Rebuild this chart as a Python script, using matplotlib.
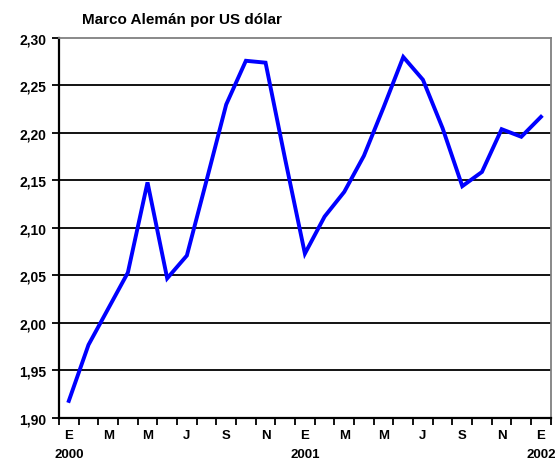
import numpy as np
import matplotlib
matplotlib.use("Agg")
import matplotlib.pyplot as plt

# monthly values, Jan 2000 .. Jan 2002
months = ["E", "F", "M", "A", "M", "J", "J", "A", "S", "O", "N", "D",
          "E", "F", "M", "A", "M", "J", "J", "A", "S", "O", "N", "D", "E"]
dm_per_usd = [1.918, 1.977, 2.015, 2.053, 2.148, 2.047, 2.071, 2.150, 2.230,
              2.276, 2.274, 2.172, 2.073, 2.112, 2.138, 2.176, 2.227, 2.280,
              2.256, 2.205, 2.144, 2.159, 2.204, 2.196, 2.217]
years = {0: "2000", 12: "2001", 24: "2002"}
yticks = [1.90, 1.95, 2.00, 2.05, 2.10, 2.15, 2.20, 2.25, 2.30]

plt.rcParams['font.family'] = ['Liberation Sans', 'DejaVu Sans']
plt.rcParams['font.weight'] = 'bold'

fig = plt.figure(figsize=(5.57, 4.64), dpi=100)
ax = fig.add_axes([0.1059, 0.097, 0.883, 0.819])

x = np.arange(len(dm_per_usd))
ax.plot(x, dm_per_usd, color='#0000ff', lw=2.8, solid_joinstyle='miter', zorder=3)

ax.set_ylim(1.90, 2.30)
ax.set_xlim(-0.5, len(x) - 0.5)
ax.set_yticks(yticks)
ax.set_yticklabels([f"{v:.2f}".replace('.', ',') for v in yticks], fontsize=10, fontweight='bold')
for v in yticks[1:-1]:
    ax.axhline(v, color='black', lw=1.3, zorder=1)

# ticks between months, labels every second month
ax.set_xticks(np.arange(-0.5, len(x), 1))
ax.set_xticklabels([])
ax.set_xticks(x[::2], minor=True)
ax.set_xticklabels(months[::2], minor=True, fontsize=9.5, fontweight='bold')
ax.tick_params(axis='x', which='major', length=5, width=1.3, direction='out')
ax.tick_params(axis='x', which='minor', length=0, pad=8)
ax.tick_params(axis='y', length=5, width=1.3, direction='out', pad=4)

for i, yr in years.items():
    ax.text(i, -0.095, yr, transform=ax.get_xaxis_transform(), ha='center', va='center',
            fontsize=9.5, fontweight='bold')

for s in ['left', 'bottom']:
    ax.spines[s].set_linewidth(1.6)
    ax.spines[s].set_color('black')
for s in ['top', 'right']:
    ax.spines[s].set_linewidth(1.3)
    ax.spines[s].set_color('#808080')

fig.text(0.147, 0.957, "Marco Alemán por US dólar", fontsize=11, fontweight='bold',
         ha='left', va='center')

fig.savefig("out.png", dpi=100)
